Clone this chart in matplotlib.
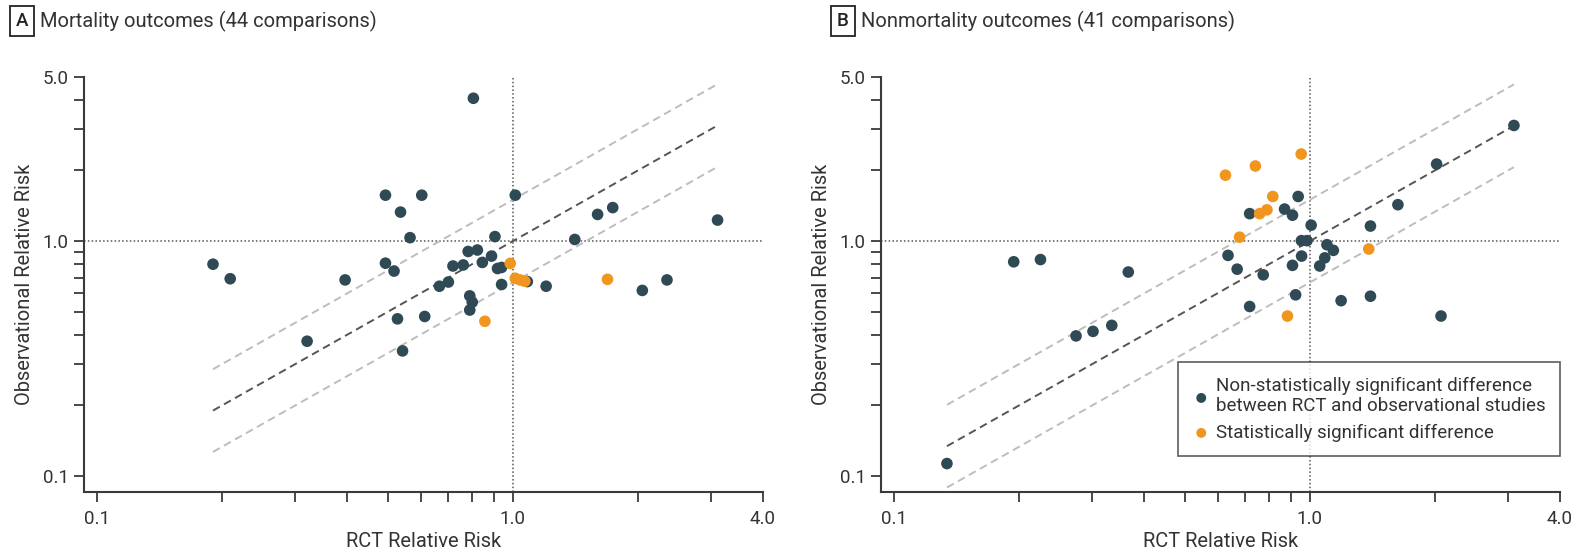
import matplotlib
matplotlib.use("Agg")
import matplotlib.pyplot as plt
from matplotlib.ticker import FixedLocator, FixedFormatter, NullFormatter

plt.rcParams['font.family'] = ['Roboto', 'DejaVu Sans']

# Panel A: mortality outcomes
mort_ns_rct = [0.804, 0.494, 0.604, 1.014, 0.537, 1.60, 1.74, 3.11, 0.566, 0.906, 1.41, 0.190, 0.209,
               0.395, 0.494, 0.518, 0.781, 0.822, 0.889, 0.845, 0.718, 0.760, 0.919, 0.940, 0.666,
               0.700, 0.940, 1.084, 1.203, 2.05, 2.35, 0.788, 0.799, 0.788, 0.528, 0.614, 0.320, 0.543]
mort_ns_obs = [4.06, 1.57, 1.57, 1.57, 1.33, 1.30, 1.39, 1.23, 1.035, 1.046, 1.017, 0.798, 0.692,
               0.684, 0.806, 0.746, 0.904, 0.917, 0.864, 0.812, 0.784, 0.792, 0.765, 0.773, 0.643,
               0.670, 0.654, 0.673, 0.643, 0.617, 0.684, 0.585, 0.550, 0.509, 0.467, 0.478, 0.375, 0.341]
mort_sig_rct = [0.986, 1.014, 1.041, 1.069, 1.69, 0.857]
mort_sig_obs = [0.804, 0.695, 0.684, 0.675, 0.688, 0.456]

# Panel B: nonmortality outcomes
nonm_ns_rct = [3.10, 2.02, 0.938, 0.870, 0.717, 0.909, 1.63, 1.008, 1.40, 0.955, 0.985, 1.10, 1.14,
               1.087, 1.057, 0.956, 0.909, 0.636, 0.669, 0.773, 0.194, 0.225, 0.366, 0.925, 0.717,
               1.19, 1.40, 2.07, 0.274, 0.301, 0.334, 0.134]
nonm_ns_obs = [3.11, 2.13, 1.55, 1.37, 1.31, 1.29, 1.43, 1.17, 1.16, 1.005, 1.005, 0.966, 0.914,
               0.849, 0.784, 0.864, 0.789, 0.870, 0.760, 0.719, 0.817, 0.835, 0.739, 0.591, 0.527,
               0.558, 0.583, 0.480, 0.395, 0.413, 0.438, 0.113]
nonm_sig_rct = [0.627, 0.740, 0.954, 0.815, 0.758, 0.789, 0.678, 1.387, 0.884]
nonm_sig_obs = [1.91, 2.09, 2.35, 1.55, 1.31, 1.36, 1.04, 0.926, 0.480]

panel_letters = ["A", "B"]
panel_titles = ["Mortality outcomes (44 comparisons)", "Nonmortality outcomes (41 comparisons)"]
x_major = [0.1, 1.0, 4.0]
y_major = [0.1, 1.0, 5.0]
minor_vals = [0.2, 0.3, 0.4, 0.5, 0.6, 0.7, 0.8, 0.9, 2.0, 3.0, 4.0]
band = 1.5

dark = '#2f4a55'
orange = '#f0961e'
axis_col = '#3a3a3a'
text_col = '#333333'

fig = plt.figure(figsize=(15.8, 5.57), dpi=100)
lefts = [0.0532, 0.5576]
letter_x = [0.0139, 0.5335]

panels = [
    (mort_ns_rct, mort_ns_obs, mort_sig_rct, mort_sig_obs),
    (nonm_ns_rct, nonm_ns_obs, nonm_sig_rct, nonm_sig_obs),
]

for i, (nx, ny, sx, sy) in enumerate(panels):
    ax = fig.add_axes([lefts[i], 0.1167, 0.4297, 0.745])
    ax.set_xscale('log')
    ax.set_yscale('log')
    ax.set_xlim(0.093, 4.0)
    ax.set_ylim(0.0855, 5.0)

    # reference lines
    ax.axhline(1.0, color='#555555', linestyle=(0, (1, 1.5)), linewidth=1.1, zorder=1)
    ax.axvline(1.0, color='#555555', linestyle=(0, (1, 1.5)), linewidth=1.1, zorder=1)

    all_x = nx + sx
    lo, hi = min(all_x), max(all_x)
    ax.plot([lo, hi], [lo, hi], color='#555555', linestyle=(0, (4, 2.5)), linewidth=1.4, zorder=2)
    ax.plot([lo, hi], [lo * band, hi * band], color='#bdbdbd', linestyle=(0, (4, 2.5)), linewidth=1.4, zorder=2)
    ax.plot([lo, hi], [lo / band, hi / band], color='#bdbdbd', linestyle=(0, (4, 2.5)), linewidth=1.4, zorder=2)

    ax.scatter(nx, ny, s=70, color=dark, edgecolors='none', zorder=3,
               label='Non-statistically significant difference\nbetween RCT and observational studies')
    ax.scatter(sx, sy, s=70, color=orange, edgecolors='none', zorder=4,
               label='Statistically significant difference')

    for side in ['top', 'right']:
        ax.spines[side].set_visible(False)
    for side in ['left', 'bottom']:
        ax.spines[side].set_color(axis_col)
        ax.spines[side].set_linewidth(1.5)

    ax.xaxis.set_major_locator(FixedLocator(x_major))
    ax.xaxis.set_major_formatter(FixedFormatter(['0.1', '1.0', '4.0']))
    ax.xaxis.set_minor_locator(FixedLocator(minor_vals))
    ax.xaxis.set_minor_formatter(NullFormatter())
    ax.yaxis.set_major_locator(FixedLocator(y_major))
    ax.yaxis.set_major_formatter(FixedFormatter(['0.1', '1.0', '5.0']))
    ax.yaxis.set_minor_locator(FixedLocator(minor_vals))
    ax.yaxis.set_minor_formatter(NullFormatter())
    ax.tick_params(which='both', length=7, width=1.3, color=axis_col, labelsize=13.5, labelcolor=text_col)
    ax.tick_params(axis='x', pad=6)
    ax.tick_params(axis='y', pad=4)

    ax.set_xlabel('RCT Relative Risk', fontsize=14.5, color=text_col, labelpad=3)
    ax.set_ylabel('Observational Relative Risk', fontsize=14.5, color=text_col, labelpad=6)

    # panel letter and title
    fig.text(letter_x[i], 0.962, panel_letters[i], fontsize=13.5, color='#222222', va='center', ha='center',
             fontweight='medium',
             bbox=dict(boxstyle='square,pad=0.32', facecolor='white', edgecolor='#222222', linewidth=1.3))
    fig.text(letter_x[i] + 0.0115, 0.962, panel_titles[i], fontsize=14.5, color=text_col, va='center', ha='left')

    if i == 1:
        leg = ax.legend(loc='lower right', bbox_to_anchor=(1.0, 0.087), borderaxespad=0, fontsize=13.5,
                        frameon=True, fancybox=False, edgecolor='#333333', handletextpad=0.3,
                        borderpad=0.75, handlelength=1.0, markerscale=0.85, labelspacing=0.45)
        leg.get_frame().set_linewidth(1.2)
        for t in leg.get_texts():
            t.set_color(text_col)

fig.savefig('out.png', dpi=100)
